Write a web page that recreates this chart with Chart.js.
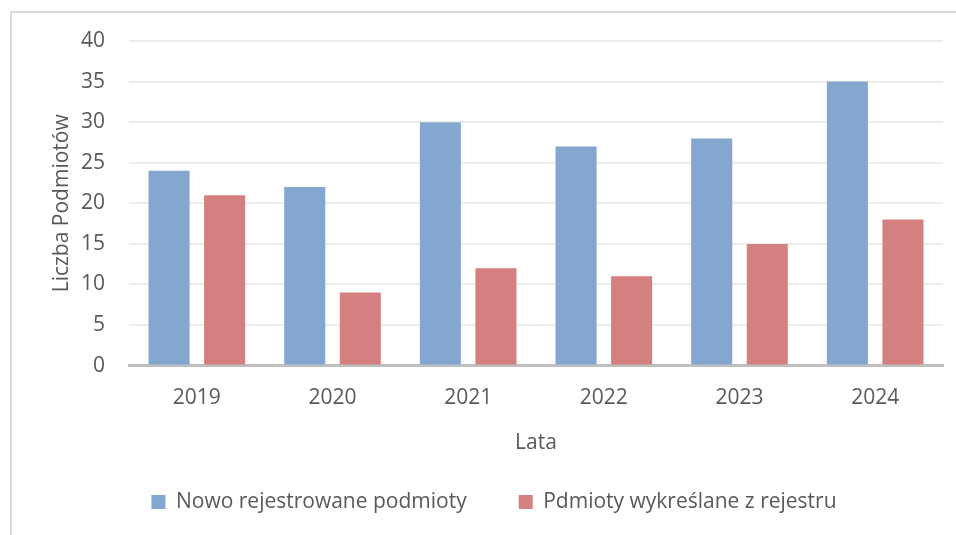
<!DOCTYPE html>
<html><head><meta charset="utf-8">
<script src="https://cdn.jsdelivr.net/npm/chart.js@4.4.0/dist/chart.umd.min.js"></script>
<style>
html,body{margin:0;padding:0;background:#fff;overflow:hidden;}
#wrap{position:relative;width:956px;height:535px;}
#frame{position:absolute;left:10px;top:11px;width:960px;height:540px;border:2px solid #d9d9d9;box-sizing:border-box;pointer-events:none;}
canvas{position:absolute;left:0;top:0;}
</style></head>
<body><div id="wrap"><canvas id="c" width="956" height="535"></canvas><div id="frame"></div></div>
<script>
const categories = ['2019','2020','2021','2022','2023','2024'];
const newEntities = [24, 22, 30, 27, 28, 35];
const removedEntities = [21, 9, 12, 11, 15, 18];
const seriesNames = ['Nowo rejestrowane podmioty', 'Pdmioty wykreślane z rejestru'];
const yTitle = 'Liczba Podmiotów';
const xTitle = 'Lata';

const FONT = "'Open Sans', 'Noto Sans', sans-serif";
const TXT = '#595959';
Chart.defaults.font.family = FONT;
Chart.defaults.color = TXT;

const LEGEND_H = 75;      // height reserved for the legend below the x axis
const LEGEND_CY = 502;    // vertical centre of the legend row

const legendPlace = {
  id: 'legendPlace',
  afterInit(chart) {
    const lg = chart.legend;
    const orig = lg.fit.bind(lg);
    lg.fit = function () { orig(); this.height = LEGEND_H; };
  },
  afterLayout(chart) {
    const lg = chart.legend;
    const pad = lg.options.labels.padding;
    const itemH = Math.max(lg.options.labels.boxHeight, lg.options.labels.font.size);
    const cur = lg.top + pad + itemH / 2;
    const d = cur - LEGEND_CY;
    lg.top -= d; lg.bottom -= d;
  }
};

new Chart(document.getElementById('c'), {
  type: 'bar',
  data: {
    labels: categories,
    datasets: [
      {label: seriesNames[0], data: newEntities, backgroundColor: '#84a7d0'},
      {label: seriesNames[1], data: removedEntities, backgroundColor: '#d58080'}
    ]
  },
  plugins: [legendPlace],
  options: {
    responsive: false,
    animation: false,
    devicePixelRatio: 1,
    categoryPercentage: 0.819,
    barPercentage: 0.739,
    layout: {padding: {left: 45, right: 13, top: 41, bottom: 0}},
    plugins: {
      tooltip: {enabled: false},
      legend: {
        position: 'bottom',
        labels: {boxWidth: 14, boxHeight: 14, padding: 52, font: {size: 21, family: FONT}, color: TXT}
      }
    },
    scales: {
      x: {
        grid: {display: false, drawTicks: false},
        border: {display: true, color: '#bfbfbf', width: 3},
        ticks: {padding: 20, font: {size: 21}, color: TXT},
        title: {display: true, text: xTitle, font: {size: 21}, color: TXT, padding: {top: 0, bottom: 4}}
      },
      y: {
        min: 0, max: 40,
        ticks: {stepSize: 5, padding: 24, font: {size: 21}, color: TXT},
        grid: {color: '#ececec', lineWidth: 2, drawTicks: false},
        border: {display: false},
        title: {display: true, text: yTitle, font: {size: 21}, color: TXT},
        afterFit: s => { s.width = 84; }
      }
    }
  }
});
</script>
</body></html>
